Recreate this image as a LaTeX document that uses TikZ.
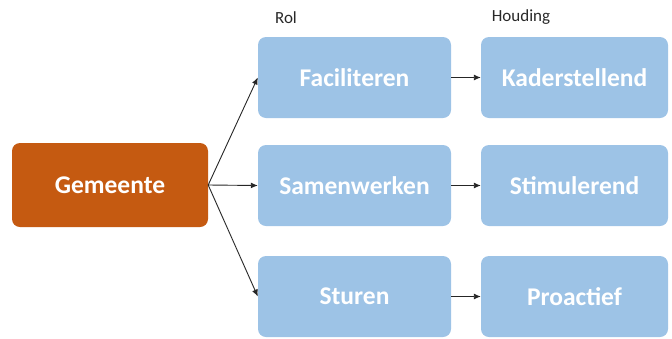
\documentclass[tikz,border=0pt]{standalone}
\usepackage{fontspec}
\setmainfont{Carlito}
\usetikzlibrary{positioning,arrows.meta}
\definecolor{gemorange}{RGB}{197,90,17}
\definecolor{rolblue}{RGB}{157,195,230}
\definecolor{kopgray}{RGB}{40,40,40}
\tikzset{
  gembox/.style={fill=gemorange,rounded corners=8pt,minimum width=196pt,minimum height=84pt,
    text=white,font=\fontsize{25.5}{28}\selectfont\bfseries},
  rolbox/.style={fill=rolblue,rounded corners=8pt,minimum width=193pt,minimum height=81pt,
    text=white,font=\fontsize{25.5}{28}\selectfont\bfseries},
  houdbox/.style={rolbox,minimum width=187pt},
  kop/.style={text=kopgray,font=\fontsize{17}{19}\selectfont,inner sep=0pt},
  pijl/.style={-{Latex[length=7pt,width=6pt]},line width=0.9pt,black!85}
}
\begin{document}
\begin{tikzpicture}[x=1pt,y=-1pt]
\useasboundingbox (0,0) rectangle (672,338);
\node[gembox] (gem) at (110,185) {Gemeente};
% rol en houding per rij
\foreach \n/\r/\h/\y in {fac/Faciliteren/Kaderstellend/77.5,
                         sam/Samenwerken/Stimulerend/185.5,
                         stu/Sturen/Proactief/296.5}{
  \node[rolbox] (\n) at (354.5,\y) {\r};
  \node[houdbox] (\n h) at (574.5,\y) {\h};
  \draw[pijl] (gem.east) -- (\n.west);
  \draw[pijl] (\n) -- (\n h);
}
\node[kop] (rol) at (286,18) {Rol};
\node[kop] (houding) at (521,17) {Houding};
\end{tikzpicture}
\end{document}
